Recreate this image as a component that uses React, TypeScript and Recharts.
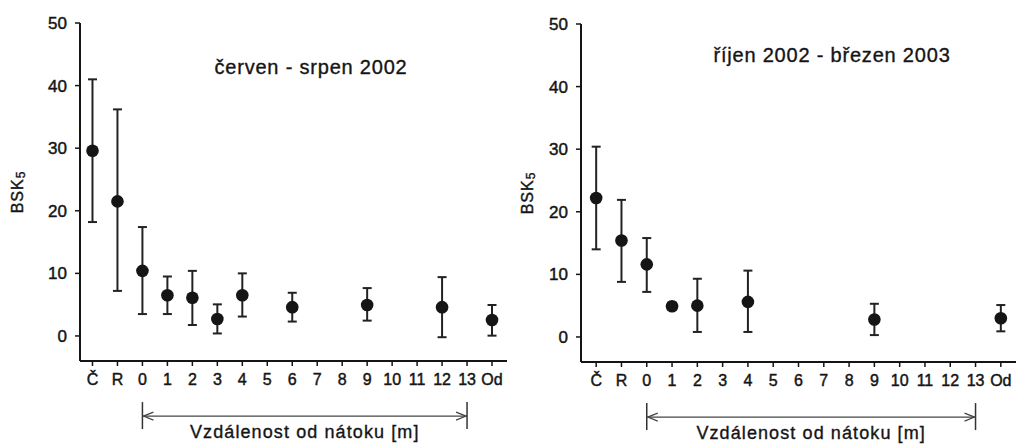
import React from "react";
import { ErrorBar, ReferenceLine, Scatter, ScatterChart, XAxis, YAxis } from "recharts";

// x positions: sampling sites, 0..13 = distance from inflow [m]
const CATEGORIES = ["Č", "R", "0", "1", "2", "3", "4", "5", "6", "7", "8", "9", "10", "11", "12", "13", "Od"];
const Y_TICKS = [0, 10, 20, 30, 40, 50];

// červen - srpen 2002
const summerSites = ["Č", "R", "0", "1", "2", "3", "4", "6", "9", "12", "Od"];
const summerMean = [29.6, 21.5, 10.4, 6.5, 6.1, 2.7, 6.5, 4.6, 4.95, 4.6, 2.55];
const summerHigh = [41, 36.2, 17.4, 9.5, 10.4, 5.05, 10, 6.9, 7.65, 9.4, 4.95];
const summerLow = [18.2, 7.2, 3.5, 3.5, 1.75, 0.4, 3.1, 2.3, 2.45, -0.2, 0.05];

// říjen 2002 - březen 2003
const winterSites = ["Č", "R", "0", "1", "2", "4", "9", "Od"];
const winterMean = [22.2, 15.4, 11.6, 4.9, 5.0, 5.6, 2.8, 3.0];
const winterHigh = [30.4, 21.9, 15.8, 5.5, 9.3, 10.6, 5.3, 5.1];
const winterLow = [14, 8.8, 7.2, 4.3, 0.8, 0.8, 0.3, 0.9];

// bracket under the axis: from "0" to "13" m
const RANGE_START = "0";
const RANGE_END = "13";
const RANGE_Y = -12.8;
const AXIS_TITLE = "Vzdálenost od nátoku [m]";

const INK = "#151515";
const FONT = "'Liberation Sans', Arial, sans-serif";

function buildRows(sites: string[], mean: number[], high: number[], low: number[]) {
  return sites.map((s, i) => ({
    pos: CATEGORIES.indexOf(s),
    mean: mean[i],
    err: [mean[i] - low[i], high[i] - mean[i]],
  }));
}

const Dot = (p: any) => <circle cx={p.cx} cy={p.cy} r={6.3} fill={INK} />;

const Bracket = (p: any) => {
  const { x1, y1, x2 } = p;
  const mid = (x1 + x2) / 2;
  return (
    <g>
      <line x1={x1} y1={y1 - 14} x2={x1} y2={y1 + 13} stroke="#333" strokeWidth={1.5} />
      <line x1={x2} y1={y1 - 14} x2={x2} y2={y1 + 13} stroke="#333" strokeWidth={1.5} />
      <line x1={x1} y1={y1} x2={x2} y2={y1} stroke="#444" strokeWidth={1.2} />
      <polyline points={`${x1 + 11},${y1 - 4} ${x1 + 1},${y1} ${x1 + 11},${y1 + 4}`} fill="none" stroke="#444" strokeWidth={1.2} />
      <polyline points={`${x2 - 11},${y1 - 4} ${x2 - 1},${y1} ${x2 - 11},${y1 + 4}`} fill="none" stroke="#444" strokeWidth={1.2} />
      <text x={mid} y={y1 + 16} textAnchor="middle" dominantBaseline="central" fontSize={18} fill={INK} stroke={INK} strokeWidth={0.35} style={{ letterSpacing: "1.1px" }}>
        {AXIS_TITLE}
      </text>
    </g>
  );
};

const yLabel = (props: any) => {
  const { x, y, height } = props.viewBox;
  const cx = x + 17;
  const cy = y + height / 2;
  return (
    <text x={cx} y={cy} transform={`rotate(-90 ${cx} ${cy})`} textAnchor="middle" dominantBaseline="central" fontSize={16} fill={INK} stroke={INK} strokeWidth={0.4} style={{ letterSpacing: "1px" }}>
      BSK<tspan dy={4} fontSize={12}>5</tspan>
    </text>
  );
};

interface PanelProps {
  rows: ReturnType<typeof buildRows>;
  width: number;
  left: number;
  yAxisWidth: number;
  top: number;
  right: number;
  bottom: number;
  xMin: number;
  title: string;
  titleX: number;
  titleY: number;
}

function Panel({ rows, width, left, yAxisWidth, top, right, bottom, xMin, title, titleX, titleY }: PanelProps) {
  return (
    <div style={{ position: "absolute", left, top: 0, width, height: 444 }}>
      <ScatterChart width={width} height={444} margin={{ top, right, bottom, left: 0 }}>
        <XAxis
          dataKey="pos"
          type="number"
          domain={[xMin, 16.6]}
          allowDataOverflow
          ticks={CATEGORIES.map((_, i) => i)}
          tickFormatter={(v: number) => CATEGORIES[v]}
          interval={0}
          height={30}
          tickSize={5}
          tickMargin={8}
          axisLine={{ stroke: INK, strokeWidth: 2 }}
          tickLine={{ stroke: INK, strokeWidth: 1.5 }}
          tick={{ fontSize: 16, fill: INK, stroke: INK, strokeWidth: 0.45 }}
        />
        <YAxis
          dataKey="mean"
          type="number"
          domain={[-4, 50]}
          allowDataOverflow
          ticks={Y_TICKS}
          interval={0}
          width={yAxisWidth}
          tickSize={5}
          tickMargin={8}
          axisLine={{ stroke: INK, strokeWidth: 2 }}
          tickLine={{ stroke: INK, strokeWidth: 1.5 }}
          tick={{ fontSize: 17, fill: INK, stroke: INK, strokeWidth: 0.45 }}
          label={yLabel}
        />
        <Scatter data={rows} shape={Dot} isAnimationActive={false}>
          <ErrorBar dataKey="err" direction="y" width={4.5} stroke="#222" strokeWidth={2} isAnimationActive={false} />
        </Scatter>
        <ReferenceLine
          segment={[
            { x: CATEGORIES.indexOf(RANGE_START), y: RANGE_Y },
            { x: CATEGORIES.indexOf(RANGE_END), y: RANGE_Y },
          ]}
          ifOverflow="visible"
          shape={Bracket}
        />
      </ScatterChart>
      <div
        style={{
          position: "absolute",
          left: titleX - left,
          top: titleY,
          transform: "translate(-50%, -50%)",
          whiteSpace: "nowrap",
          fontSize: 20,
          letterSpacing: "0.8px",
          color: INK,
          WebkitTextStroke: "0.35px #151515",
        }}
      >
        {title}
      </div>
    </div>
  );
}

export default function App() {
  const summer = buildRows(summerSites, summerMean, summerHigh, summerLow);
  const winter = buildRows(winterSites, winterMean, winterHigh, winterLow);
  return (
    <div style={{ position: "absolute", left: 0, top: 0, width: 1017, height: 444, background: "#fff", fontFamily: FONT, overflow: "hidden" }}>
      <Panel rows={summer} width={510} left={0} yAxisWidth={80} top={23} right={3} bottom={53} xMin={-0.5} title="červen - srpen 2002" titleX={311} titleY={67} />
      <Panel rows={winter} width={507} left={510} yAxisWidth={71} top={24} right={1} bottom={52} xMin={-0.6} title="říjen 2002 - březen 2003" titleX={832} titleY={55} />
    </div>
  );
}
